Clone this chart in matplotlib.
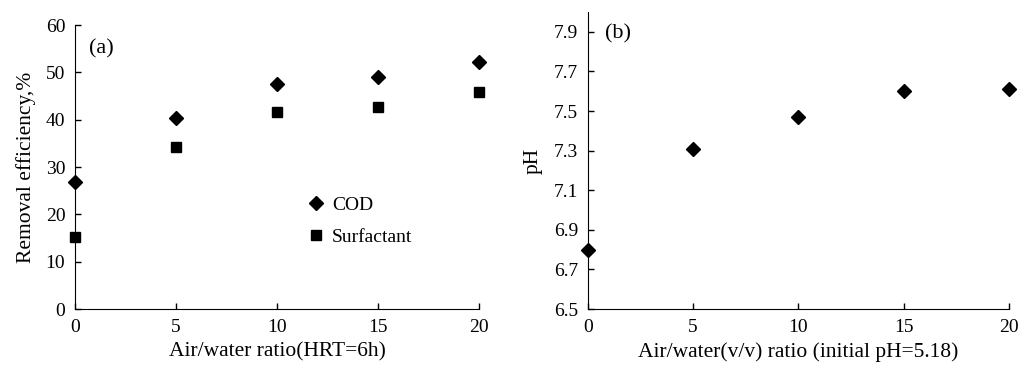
import matplotlib
matplotlib.use('Agg')
import matplotlib.pyplot as plt

plt.rcParams['font.family'] = ['Liberation Serif', 'DejaVu Serif']

# panel (a)
ratio = [0, 5, 10, 15, 20]
cod = [26.9, 40.3, 47.5, 49.1, 52.1]
surfactant = [15.3, 34.3, 41.6, 42.7, 45.8]

# panel (b)
ph = [6.80, 7.31, 7.47, 7.60, 7.61]

fig = plt.figure(figsize=(10.19, 3.65), dpi=100)
ax1 = fig.add_axes([0.0736, 0.1534, 0.3966, 0.778])
ax2 = fig.add_axes([0.577, 0.1534, 0.413, 0.8136])

for ax in (ax1, ax2):
    ax.spines['top'].set_visible(False)
    ax.spines['right'].set_visible(False)
    ax.tick_params(direction='in', labelsize=14, length=4, width=1, pad=7)
    ax.set_xticks(ratio)
    ax.set_xlim(0, 20)

ax1.plot(ratio, cod, 'D', color='black', ms=7, clip_on=False, label='COD')
ax1.plot(ratio, surfactant, 's', color='black', ms=7.5, clip_on=False, label='Surfactant')
ax1.set_ylim(0, 60)
ax1.set_yticks(range(0, 61, 10))
ax1.set_xlabel('Air/water ratio(HRT=6h)', fontsize=15.5, labelpad=5)
ax1.set_ylabel('Removal efficiency,%', fontsize=15.5, labelpad=7)
ax1.text(0.035, 0.9, '(a)', transform=ax1.transAxes, fontsize=16)
ax1.legend(loc='center left', bbox_to_anchor=(0.525, 0.31), frameon=False,
           fontsize=14, handletextpad=0.2, labelspacing=0.75, handlelength=1.2)

ax2.plot(ratio, ph, 'D', color='black', ms=7, clip_on=False)
ax2.set_ylim(6.5, 8.0)
ax2.set_yticks([6.5, 6.7, 6.9, 7.1, 7.3, 7.5, 7.7, 7.9])
ax2.set_yticklabels(['6.5', '6.7', '6.9', '7.1', '7.3', '7.5', '7.7', '7.9'])
ax2.set_xlabel('Air/water(v/v) ratio (initial pH=5.18)', fontsize=15.5, labelpad=5)
ax2.set_ylabel('pH', fontsize=15.5, labelpad=8)
ax2.text(0.04, 0.91, '(b)', transform=ax2.transAxes, fontsize=16)

fig.savefig('out.png', dpi=100)
